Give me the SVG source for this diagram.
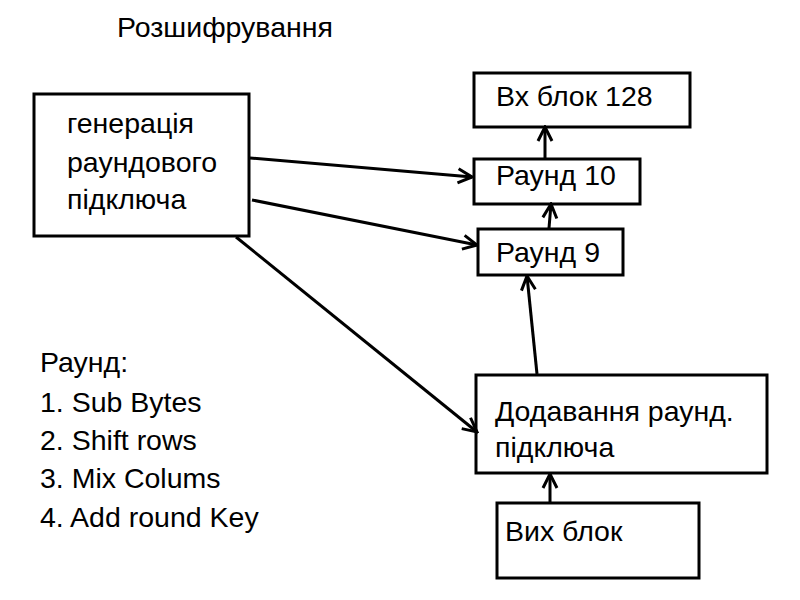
<svg xmlns="http://www.w3.org/2000/svg" width="800" height="600" viewBox="0 0 800 600">
<defs>
<marker id="ah" viewBox="0 0 20 20" refX="18" refY="10" markerWidth="20" markerHeight="20" markerUnits="userSpaceOnUse" orient="auto">
<path d="M4,3 L18,10 L4,17" fill="none" stroke="#000" stroke-width="3"/>
</marker>
<style>
.box{fill:#fff;stroke:#000;stroke-width:3}
.t{font-family:"Liberation Sans","Noto Sans",sans-serif;font-size:28.5px;fill:#000}
.c{stroke:#000;stroke-width:3;fill:none;marker-end:url(#ah)}
</style>
</defs>
<rect width="800" height="600" fill="#fff"/>
<text class="t" x="117" y="37">Розшифрування</text>
<g id="gen">
<rect class="box" x="34" y="94" width="215" height="142"/>
<text class="t" x="67" y="133">генерація</text>
<text class="t" x="67" y="172">раундового</text>
<text class="t" x="67" y="209">підключа</text>
</g>
<g id="vx">
<rect class="box" x="474" y="73" width="216" height="54"/>
<text class="t" x="496" y="106">Вх блок 128</text>
</g>
<g id="r10">
<rect class="box" x="474" y="159" width="166" height="45"/>
<text class="t" x="496" y="185">Раунд 10</text>
</g>
<g id="r9">
<rect class="box" x="478" y="229" width="145" height="46"/>
<text class="t" x="496" y="262">Раунд 9</text>
</g>
<g id="add">
<rect class="box" x="476" y="375" width="291" height="98"/>
<text class="t" x="495" y="421">Додавання раунд.</text>
<text class="t" x="495" y="457">підключа</text>
</g>
<g id="vyx">
<rect class="box" x="497" y="503" width="202" height="75"/>
<text class="t" x="505" y="541">Вих блок</text>
</g>
<g id="list">
<text class="t" x="40" y="372">Раунд:</text>
<text class="t" x="40" y="412">1. Sub Bytes</text>
<text class="t" x="40" y="450">2. Shift rows</text>
<text class="t" x="40" y="488">3. Mix Colums</text>
<text class="t" x="40" y="527">4. Add round Key</text>
</g>
<g id="connectors">
<line class="c" x1="250" y1="158" x2="472" y2="177"/>
<line class="c" x1="252" y1="200" x2="477" y2="245"/>
<line class="c" x1="236" y1="237" x2="477" y2="432"/>
<line class="c" x1="545" y1="158" x2="545" y2="127"/>
<line class="c" x1="549" y1="228" x2="551" y2="204"/>
<line class="c" x1="537" y1="374" x2="527" y2="276"/>
<line class="c" x1="550" y1="502" x2="550" y2="474"/>
</g>
</svg>
